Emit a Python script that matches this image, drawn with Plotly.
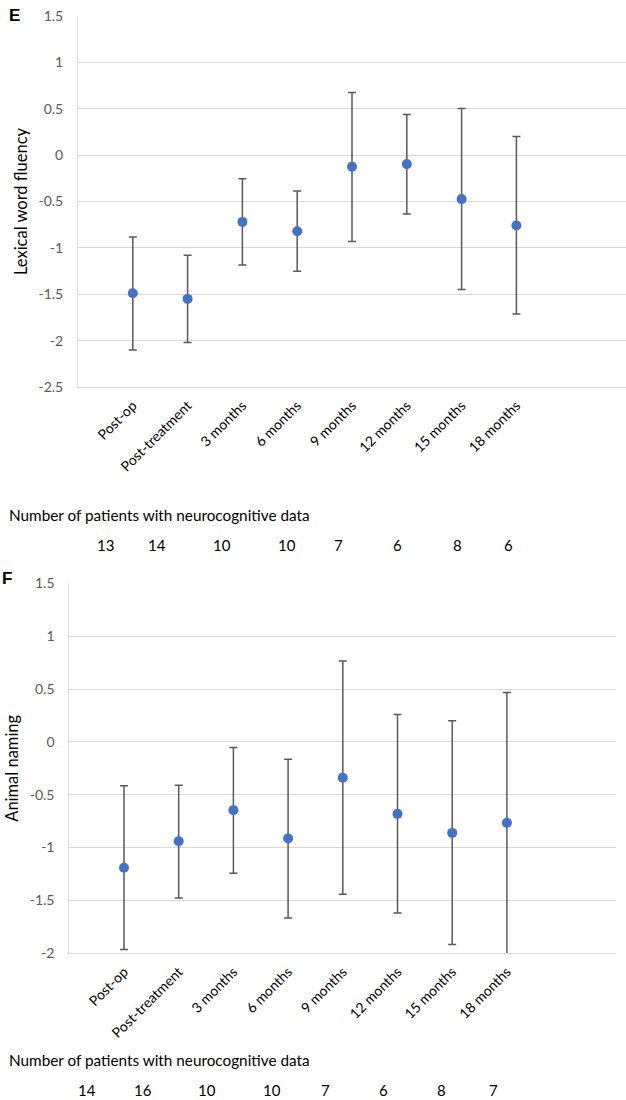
import plotly.graph_objects as go

categories = ["Post-op", "Post-treatment", "3 months", "6 months", "9 months",
              "12 months", "15 months", "18 months"]

# Panel E: Lexical word fluency
lex_mean = [-1.49, -1.55, -0.72, -0.82, -0.125, -0.097, -0.474, -0.758]
lex_upper = [-0.884, -1.08, -0.254, -0.388, 0.676, 0.439, 0.503, 0.20]
lex_lower = [-2.10, -2.02, -1.185, -1.253, -0.93, -0.636, -1.45, -1.713]
lex_n = [13, 14, 10, 10, 7, 6, 8, 6]
lex_yticks = [1.5, 1, 0.5, 0, -0.5, -1, -1.5, -2, -2.5]

# Panel F: Animal naming
ani_mean = [-1.19, -0.94, -0.646, -0.914, -0.34, -0.681, -0.861, -0.766]
ani_upper = [-0.416, -0.41, -0.053, -0.164, 0.766, 0.259, 0.199, 0.467]
ani_lower = [-1.964, -1.476, -1.242, -1.665, -1.441, -1.618, -1.917, -2.03]
ani_n = [14, 16, 10, 10, 7, 6, 8, 7]
ani_yticks = [1.5, 1, 0.5, 0, -0.5, -1, -1.5, -2]

# layout: horizontal pixel positions of the patient-count labels
lex_n_px = [105, 157, 222, 287, 338, 397, 457, 508]
ani_n_px = [87, 143, 207, 272, 325, 383, 441, 493]

W, H = 626, 1100
FONT = "Lato"
GRID = "#d9d9d9"
TXT = "#595959"
BLUE = "#4472C4"
ERR = "#595959"

xpos = [i + 1 for i in range(len(categories))]

fig = go.Figure()


def add_panel(mean, upper, lower, xa, ya):
    fig.add_trace(go.Scatter(
        x=xpos, y=mean, mode="markers", xaxis=xa, yaxis=ya,
        marker=dict(color=BLUE, size=10),
        error_y=dict(type="data", symmetric=False,
                     array=[u - m for u, m in zip(upper, mean)],
                     arrayminus=[m - l for m, l in zip(mean, lower)],
                     color=ERR, thickness=1.5, width=4),
        showlegend=False, hoverinfo="skip"))


add_panel(lex_mean, lex_upper, lex_lower, "x", "y")
add_panel(ani_mean, ani_upper, ani_lower, "x2", "y2")


def px_x(p):
    return p / W


def px_y(p):
    return 1 - p / H


def fmt(v):
    return ("%g" % v).replace("\u2212", "-")


xcommon = dict(range=[0, 10], tickmode="array", tickvals=xpos, ticktext=categories,
               tickangle=-45, showgrid=False, zeroline=False, showline=True,
               linecolor=GRID, linewidth=1, ticks="", automargin=False,
               tickfont=dict(family=FONT, size=14, color="#000000"),
               ticklabelstandoff=4, ticklabelshift=0)
ycommon = dict(showgrid=True, gridcolor=GRID, gridwidth=1, tickmode="array",
               zeroline=False, showline=True, linecolor=GRID, linewidth=1,
               ticks="", ticklabelstandoff=11, automargin=False,
               tickfont=dict(family=FONT, size=14, color=TXT))

fig.update_layout(
    width=W, height=H, margin=dict(l=0, r=0, t=0, b=0, autoexpand=False),
    paper_bgcolor="white", plot_bgcolor="white",
    font=dict(family=FONT, color="#000000"),
    xaxis=dict(domain=[px_x(78), 1.0], anchor="y", **xcommon),
    yaxis=dict(domain=[px_y(387), px_y(16)], range=[-2.5, 1.5], anchor="x",
               tickvals=lex_yticks, ticktext=[fmt(v) for v in lex_yticks],
               title=dict(text="Lexical word fluency", standoff=6,
                          font=dict(family=FONT, size=16.5, color="#000000")),
               **ycommon),
    xaxis2=dict(domain=[px_x(69.3), px_x(616.3)], anchor="y2", **xcommon),
    yaxis2=dict(domain=[px_y(953.3), px_y(583.3)], range=[-2, 1.5], anchor="x2",
                tickvals=ani_yticks, ticktext=[fmt(v) for v in ani_yticks],
                title=dict(text="Animal naming", standoff=6,
                           font=dict(family=FONT, size=16.5, color="#000000")),
                **ycommon),
)

ann = []
ann.append(dict(text="<b>E</b>", xref="paper", yref="paper", x=px_x(7), y=px_y(15),
                xanchor="left", yanchor="middle", showarrow=False,
                font=dict(family="Liberation Sans", size=17, color="#000000")))
ann.append(dict(text="<b>F</b>", xref="paper", yref="paper", x=px_x(0), y=px_y(578),
                xanchor="left", yanchor="middle", showarrow=False,
                font=dict(family="Liberation Sans", size=17, color="#000000")))
for ytxt, ynum, xs, ns in [(515, 545, lex_n_px, lex_n),
                           (1060, 1090, ani_n_px, ani_n)]:
    ann.append(dict(text="Number of patients with neurocognitive data", xref="paper",
                    yref="paper", x=px_x(7), y=px_y(ytxt), xanchor="left",
                    yanchor="middle", showarrow=False,
                    font=dict(family=FONT, size=15.3, color="#000000")))
    for xp, n in zip(xs, ns):
        ann.append(dict(text=str(n), xref="paper", yref="paper", x=px_x(xp),
                        y=px_y(ynum), xanchor="center", yanchor="middle",
                        showarrow=False,
                        font=dict(family=FONT, size=15, color="#000000")))
fig.update_layout(annotations=ann)

fig.write_html("out.html", config={"displayModeBar": False},
               post_script="document.body.style.margin='0';document.body.style.padding='0';")
